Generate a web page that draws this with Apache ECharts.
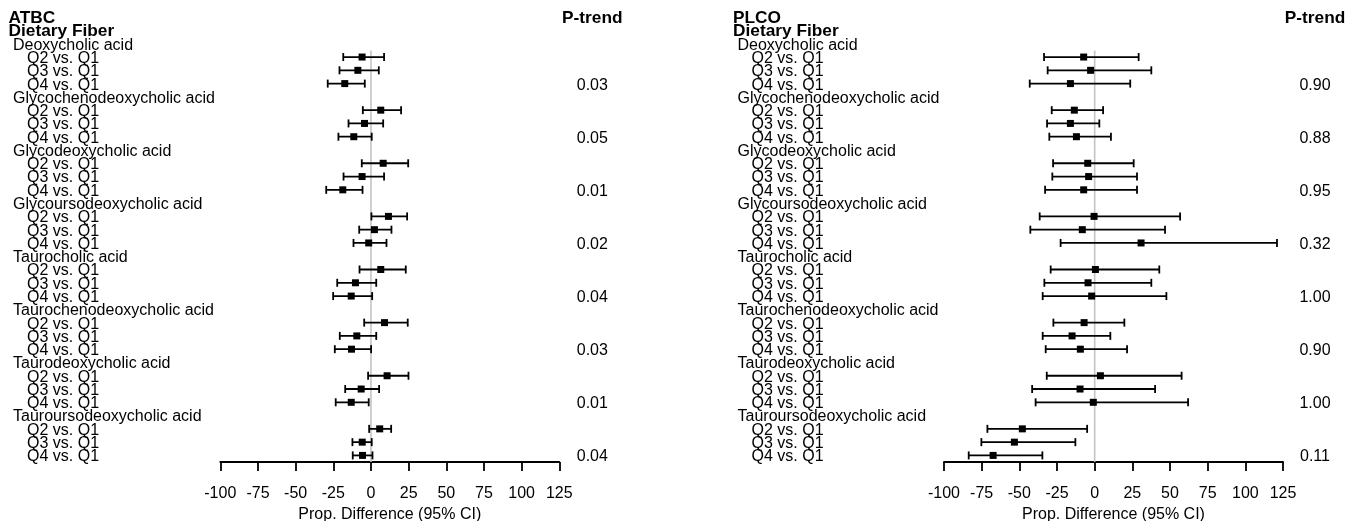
<!DOCTYPE html>
<html><head><meta charset="utf-8">
<script src="https://cdn.jsdelivr.net/npm/echarts@6/dist/echarts.min.js"></script>
<style>html,body{margin:0;padding:0;background:#fff}#c{width:1362px;height:521px}</style>
</head><body><div id="c"></div>
<script>
// ---------- data ----------
const cohorts = ['ATBC', 'PLCO'];
const exposure = 'Dietary Fiber';
const acids = ['Deoxycholic acid','Glycochenodeoxycholic acid','Glycodeoxycholic acid','Glycoursodeoxycholic acid',
  'Taurocholic acid','Taurochenodeoxycholic acid','Taurodeoxycholic acid','Tauroursodeoxycholic acid'];
const comparisons = ['Q2 vs. Q1','Q3 vs. Q1','Q4 vs. Q1'];
const xTicks = [-100,-75,-50,-25,0,25,50,75,100,125];
const xTitle = 'Prop. Difference (95% CI)';
const pHeader = 'P-trend';

// ATBC (per acid: Q2, Q3, Q4)
const atbcEst  = [-5.9,-8.7,-17.4,  6.5,-4.3,-11.4,  8.1,-5.9,-18.7,  11.6,2.3,-1.5,
                  6.5,-10.3,-13.1,  9.0,-9.4,-12.9,  10.7,-6.5,-13.1,  5.8,-5.8,-5.6];
const atbcLow  = [-18.4,-20.9,-28.7, -5.4,-14.9,-21.6, -6.1,-18.2,-29.7, 0.3,-7.8,-11.6,
                  -7.6,-22.4,-25.1, -4.5,-20.7,-24.0, -1.9,-17.1,-23.4, -1.2,-12.3,-12.1];
const atbcHigh = [8.7,5.2,-4.1,  20.0,8.1,0.5,  24.7,8.7,-5.6,  24.0,13.6,10.3,
                  23.1,3.5,0.8,  24.4,3.5,0.1,  24.9,5.4,-1.5,  13.4,0.5,1.0];
const atbcP = ['0.03','0.05','0.01','0.02','0.04','0.03','0.01','0.04'];

// PLCO (per acid: Q2, Q3, Q4)
const plcoEst  = [-7.3,-2.7,-16.1,  -13.5,-16.1,-12.1,  -4.6,-4.0,-7.3,  -0.4,-8.2,30.8,
                  0.5,-4.4,-2.0,  -7.0,-15.0,-9.5,  3.8,-9.7,-0.9,  -48.0,-53.3,-67.4];
const plcoLow  = [-33.6,-31.2,-43.1, -28.5,-31.6,-30.1, -27.6,-28.1,-32.9, -36.5,-42.7,-22.6,
                  -29.2,-33.4,-34.5, -27.4,-34.5,-32.5, -31.8,-41.5,-39.2, -71.2,-75.2,-83.6];
const plcoHigh = [29.2,37.6,23.6,  5.6,3.1,10.8,  25.9,28.1,28.1,  56.7,46.7,121.0,
                  42.9,37.6,47.6,  19.7,10.4,21.5,  57.7,40.1,62.0,  -5.0,-12.8,-34.7];
const plcoP = ['0.90','0.88','0.95','0.32','1.00','0.90','1.00','0.11'];

// ---------- build rows ----------
const FONT = '"Liberation Sans", Arial, Helvetica, sans-serif';
function buildRows(cohort) {
  const rows = [{t: cohort, k: 'h'}, {t: exposure, k: 'h'}];
  acids.forEach(a => {
    rows.push({t: a, k: 'a'});
    comparisons.forEach(q => rows.push({t: q, k: 'q'}));
  });
  return rows;
}
function buildP(pArr) {
  const r = [pHeader, ''];
  pArr.forEach(p => { r.push('', '', '', p); });
  return r;
}
function buildData(est, low, high) {
  const d = [];
  acids.forEach((a, ai) => {
    comparisons.forEach((q, qi) => {
      const i = ai * 3 + qi;
      d.push([est[i], low[i], high[i], 3 + ai * 4 + qi]);
    });
  });
  return d;
}
const nRows = 2 + acids.length * 4;
const cats = Array.from({length: nRows}, (_, i) => 'r' + i);

function renderCI(params, api) {
  const y = api.value(3);
  const lo = api.coord([api.value(1), y]);
  const hi = api.coord([api.value(2), y]);
  const pt = api.coord([api.value(0), y]);
  const cap = 4, s = 7;
  const st = {stroke: '#000', lineWidth: 1.8};
  return {type: 'group', children: [
    {type: 'line', shape: {x1: lo[0], y1: lo[1], x2: hi[0], y2: hi[1]}, style: st},
    {type: 'line', shape: {x1: lo[0], y1: lo[1] - cap, x2: lo[0], y2: lo[1] + cap}, style: st},
    {type: 'line', shape: {x1: hi[0], y1: hi[1] - cap, x2: hi[0], y2: hi[1] + cap}, style: st},
    {type: 'rect', shape: {x: pt[0] - s / 2, y: pt[1] - s / 2, width: s, height: s}, style: {fill: '#000'}}
  ]};
}
function renderRef(params, api) {
  const band = api.size([0, 1])[1];
  const top = api.coord([0, 3]);
  const bot = api.coord([0, nRows - 1]);
  return {type: 'line', shape: {x1: top[0], y1: top[1] - band / 2, x2: bot[0], y2: bot[1] + band / 2},
    style: {stroke: '#c4c4c4', lineWidth: 1.6}};
}

const panels = [
  {rows: buildRows(cohorts[0]), p: buildP(atbcP), data: buildData(atbcEst, atbcLow, atbcHigh), left: 220.3, pMargin: 33},
  {rows: buildRows(cohorts[1]), p: buildP(plcoP), data: buildData(plcoEst, plcoLow, plcoHigh), left: 944, pMargin: 32}
];

const grid = [], xAxis = [], yAxis = [], series = [];
const rich = {
  h: {fontFamily: FONT, fontWeight: 'bold', fontSize: 17.3, color: '#000', padding: [2.5, 0, 0, 0]},
  a: {fontFamily: FONT, fontSize: 16, color: '#000', padding: [3, 0, 0, 4.5]},
  q: {fontFamily: FONT, fontSize: 16, color: '#000', padding: [3, 0, 0, 18.5]}
};
panels.forEach((pn, gi) => {
  grid.push({left: pn.left, width: 339, top: 10.56, height: 451.5, containLabel: false, outerBoundsMode: 'none'});
  xAxis.push({
    type: 'value', gridIndex: gi, min: xTicks[0], max: xTicks[xTicks.length - 1], interval: 25,
    axisLine: {show: true, lineStyle: {color: '#000', width: 1.8}},
    axisTick: {show: true, length: 9, lineStyle: {color: '#000', width: 1.8}},
    axisLabel: {color: '#000', fontSize: 16, fontFamily: FONT, margin: 24, showMinLabel: true, showMaxLabel: true},
    splitLine: {show: false},
    name: xTitle, nameLocation: 'middle', nameGap: 39,
    nameTextStyle: {color: '#000', fontSize: 16, fontFamily: FONT}
  });
  yAxis.push({
    type: 'category', gridIndex: gi, data: cats, inverse: true, position: 'left',
    axisLine: {show: false}, axisTick: {show: false}, splitLine: {show: false},
    axisLabel: {interval: 0, align: 'left', margin: pn.left - (gi === 0 ? 8.5 : 733),
      formatter: (v, i) => {
        const r = pn.rows[i];
        return '{' + r.k + '|' + r.t + '}';
      }, rich: rich}
  });
  yAxis.push({
    type: 'category', gridIndex: gi, data: cats, inverse: true, position: 'right',
    axisLine: {show: false}, axisTick: {show: false}, splitLine: {show: false},
    axisLabel: {interval: 0, align: 'center', margin: pn.pMargin,
      formatter: (v, i) => {
        const t = pn.p[i];
        if (!t) return '';
        return i === 0 ? '{h|' + t + '}' : '{p|' + t + '}';
      },
      rich: {h: rich.h, p: {fontFamily: FONT, fontSize: 16, color: '#000', padding: [3, 0, 0, 0]}}}
  });
  series.push({
    type: 'custom', xAxisIndex: gi, yAxisIndex: gi * 2, renderItem: renderRef,
    data: [[0, 3]], encode: {x: 0, y: 1}, z: 1, silent: true, clip: false
  });
  series.push({
    type: 'custom', xAxisIndex: gi, yAxisIndex: gi * 2, renderItem: renderCI,
    data: pn.data, encode: {x: [0, 1, 2], y: 3}, z: 2, silent: true, clip: false
  });
});

const chart = echarts.init(document.getElementById('c'), null, {renderer: 'canvas'});
chart.setOption({animation: false, backgroundColor: '#fff', grid, xAxis, yAxis, series});
</script>
</body></html>
